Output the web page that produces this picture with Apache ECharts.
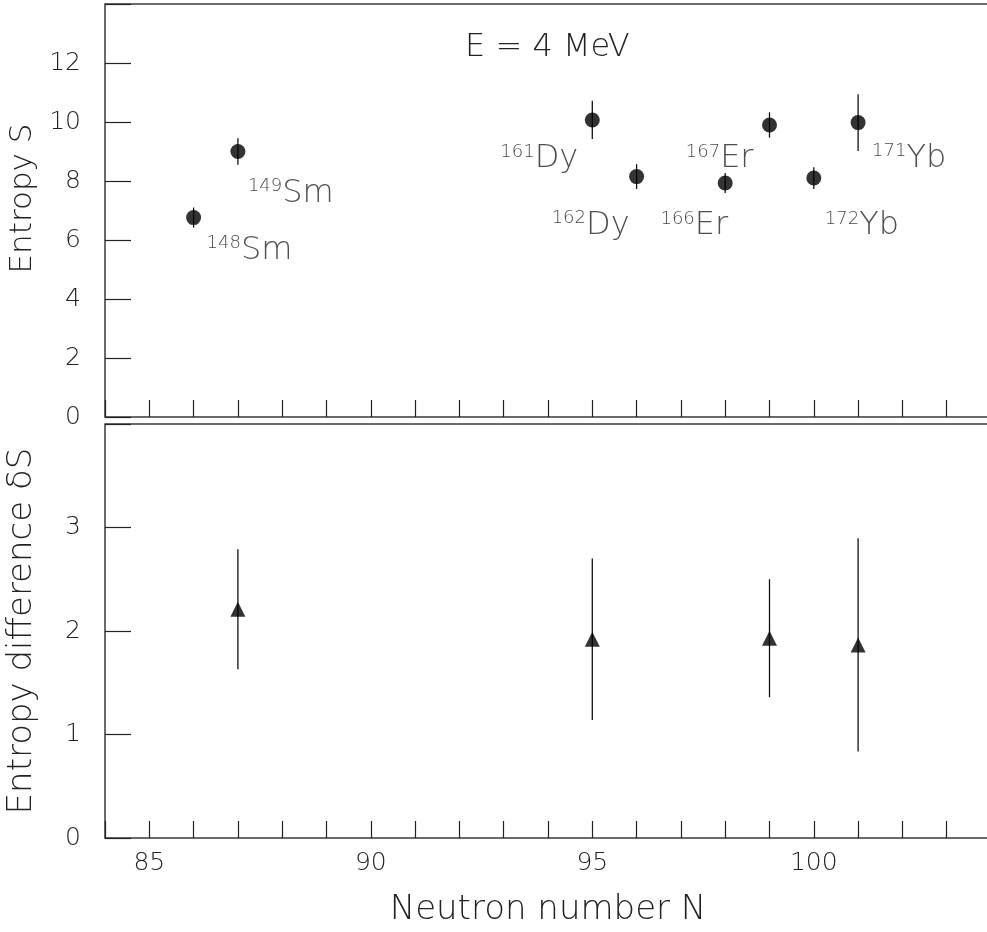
<!DOCTYPE html>
<html>
<head>
<meta charset="utf-8">
<script src="https://cdn.jsdelivr.net/npm/echarts@6/dist/echarts.min.js"></script>
<style>
  html, body { margin: 0; padding: 0; background: #fff; }
  #chart { width: 987px; height: 932px; }
</style>
</head>
<body>
<div id="chart"></div>
<script>
// ---------------- DATA ----------------
const neutronTop = [86, 87, 95, 96, 98, 99, 100, 101];
const entropy    = [6.76, 9.00, 10.07, 8.15, 7.93, 9.90, 8.10, 9.98];
const entropyErr = [0.34, 0.45, 0.65, 0.42, 0.34, 0.43, 0.37, 0.96];
const massNumber = ['148', '149', '161', '162', '166', '167', '172', '171'];
const element    = ['Sm', 'Sm', 'Dy', 'Dy', 'Er', 'Er', 'Yb', 'Yb'];

const neutronBottom = [87, 95, 99, 101];
const deltaS        = [2.21, 1.92, 1.93, 1.865];
const deltaSErr     = [0.58, 0.78, 0.57, 1.03];

const xLabeledTicks = [85, 90, 95, 100];
const titleText = 'E = 4 MeV';

// ---------------- STYLE ----------------
const FONT = "'DejaVu Sans', sans-serif";
const INK = '#222';
const FRAME = '#3a3a3a';
// label placement relative to marker centre (pixels)
const labelPlace = [
  { align: 'left',  dx: 13,  dy: 49 },
  { align: 'left',  dx: 10,  dy: 58 },
  { align: 'right', dx: -14, dy: 55 },
  { align: 'right', dx: -7,  dy: 65 },
  { align: 'right', dx: 3,   dy: 59 },
  { align: 'right', dx: -16, dy: 50 },
  { align: 'left',  dx: 11,  dy: 64 },
  { align: 'left',  dx: 14,  dy: 52 }
];

const textBase = { fontFamily: FONT, color: INK, fontWeight: 200 };

function errorBarSeries(xi, yi, xs, ys, es) {
  return {
    type: 'custom',
    xAxisIndex: xi, yAxisIndex: yi,
    data: xs.map((x, i) => [x, ys[i] - es[i], ys[i] + es[i]]),
    encode: { x: 0, y: [1, 2] },
    z: 2,
    silent: true,
    renderItem: function (params, api) {
      const x = api.value(0);
      const p1 = api.coord([x, api.value(1)]);
      const p2 = api.coord([x, api.value(2)]);
      return {
        type: 'line',
        shape: { x1: p1[0], y1: p1[1], x2: p2[0], y2: p2[1] },
        style: { stroke: '#111', lineWidth: 1.3 }
      };
    }
  };
}

function xAxisCfg(gridIndex, showLabels) {
  return {
    gridIndex: gridIndex,
    type: 'value', min: 84, max: 104, interval: 1,
    axisLine: { show: false },
    axisTick: { show: true, inside: true, length: 17, lineStyle: { color: INK, width: 1.2 } },
    splitLine: { show: false },
    axisLabel: showLabels ? Object.assign({
      show: true, fontSize: 25, margin: 13,
      formatter: v => (xLabeledTicks.indexOf(v) >= 0 ? String(v) : '')
    }, textBase) : { show: false },
    name: showLabels ? 'Neutron number N' : '',
    nameLocation: 'middle',
    nameGap: 55,
    nameTextStyle: Object.assign({ fontSize: 34 }, textBase)
  };
}

function yAxisCfg(gridIndex, max, interval, name, nameSize, namePad) {
  return {
    gridIndex: gridIndex,
    type: 'value', min: 0, max: max, interval: interval,
    axisLine: { show: false },
    axisTick: { show: true, inside: true, length: 26, lineStyle: { color: INK, width: 1.2 } },
    splitLine: { show: false },
    axisLabel: Object.assign({
      fontSize: 25, margin: 24,
      formatter: v => (v >= max ? '' : String(v))
    }, textBase),
    name: name,
    nameLocation: 'middle',
    nameGap: 66,
    nameTextStyle: Object.assign({ fontSize: nameSize, padding: namePad }, textBase)
  };
}

const chart = echarts.init(document.getElementById('chart'), null, { renderer: 'canvas' });

const option = {
  backgroundColor: '#fff',
  animation: false,
  title: {
    text: titleText,
    left: 465, top: 32, padding: 0,
    textStyle: { fontSize: 32, fontWeight: 200, fontFamily: FONT, color: INK }
  },
  grid: [
    { left: 105, top: 4,   width: 886, height: 413, show: true, borderColor: FRAME, borderWidth: 1.5, containLabel: false, outerBoundsMode: 'none' },
    { left: 105, top: 424, width: 886, height: 414, show: true, borderColor: FRAME, borderWidth: 1.5, containLabel: false, outerBoundsMode: 'none' }
  ],
  xAxis: [xAxisCfg(0, false), xAxisCfg(1, true)],
  yAxis: [
    yAxisCfg(0, 14, 2, 'Entropy S', 31, [0, 0, 0, 24]),
    yAxisCfg(1, 4, 1, 'Entropy difference \u03B4S', 34, [0, 0, 0, 0])
  ],
  series: [
    errorBarSeries(0, 0, neutronTop, entropy, entropyErr),
    {
      type: 'scatter',
      xAxisIndex: 0, yAxisIndex: 0,
      symbol: 'circle', symbolSize: 15,
      itemStyle: { color: '#000' },
      z: 3,
      data: neutronTop.map((n, i) => ({
        value: [n, entropy[i]],
        label: {
          show: true,
          position: 'inside',
          align: labelPlace[i].align,
          verticalAlign: 'bottom',
          offset: [labelPlace[i].dx, labelPlace[i].dy],
          formatter: '{s|' + massNumber[i] + '}{m|' + element[i] + '}'
        }
      })),
      label: {
        show: true,
        color: INK,
        textBorderWidth: 0,
        rich: {
          s: { fontSize: 18, fontFamily: FONT, color: '#111', fontWeight: 200, verticalAlign: 'top', lineHeight: 18, textBorderWidth: 0 },
          m: { fontSize: 32, fontFamily: FONT, color: INK, fontWeight: 200, lineHeight: 32, textBorderWidth: 0 }
        }
      }
    },
    errorBarSeries(1, 1, neutronBottom, deltaS, deltaSErr),
    {
      type: 'scatter',
      xAxisIndex: 1, yAxisIndex: 1,
      symbol: 'triangle', symbolSize: 15,
      itemStyle: { color: '#000' },
      z: 3,
      data: neutronBottom.map((n, i) => [n, deltaS[i]])
    }
  ]
};

chart.setOption(option);
</script>
</body>
</html>
